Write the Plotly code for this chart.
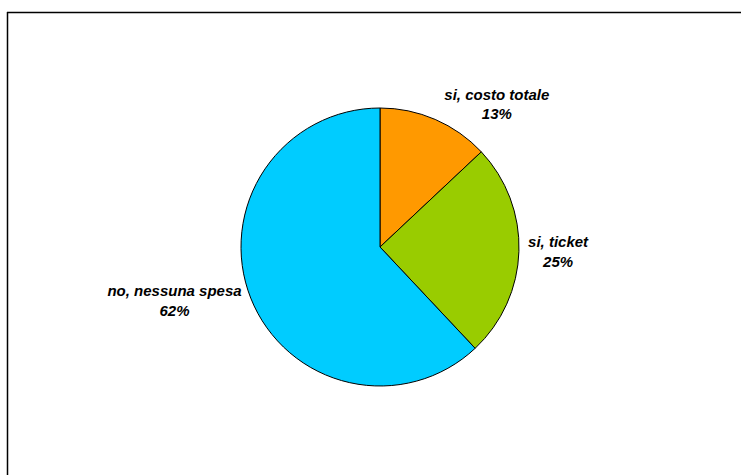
import plotly.graph_objects as go

categories = ["si, costo totale", "si, ticket", "no, nessuna spesa"]
values = [13, 25, 62]
colors = ["#FF9900", "#99CC00", "#00CCFF"]

W, H = 741, 475
cx, cy, r = 380, 247, 139

fig = go.Figure(go.Pie(
    labels=categories,
    values=values,
    sort=False,
    direction="clockwise",
    rotation=0,
    marker=dict(colors=colors, line=dict(color="black", width=1)),
    texttemplate="%{label}<br>%{percent:.0%}",
    textposition="outside",
    textfont=dict(family="Liberation Sans, Arial", size=15, color="black",
                  weight="bold", style="italic"),
    hoverinfo="label+percent",
    showlegend=False,
    domain=dict(x=[(cx - r) / W, (cx + r) / W], y=[1 - (cy + r) / H, 1 - (cy - r) / H]),
))

fig.update_layout(
    width=W, height=H,
    margin=dict(l=0, r=0, t=0, b=0),
    paper_bgcolor="white",
    plot_bgcolor="white",
    shapes=[
        dict(type="line", xref="paper", yref="paper", x0=7 / W, x1=1.01, y0=1 - 12.5 / H, y1=1 - 12.5 / H,
             line=dict(color="black", width=1.5)),
        dict(type="line", xref="paper", yref="paper", x0=7.5 / W, x1=7.5 / W, y0=1 - 12 / H, y1=-0.01,
             line=dict(color="black", width=1.5)),
    ],
)

fig.write_html("out.html", config={"displayModeBar": False},
               post_script="document.body.style.margin='0';document.body.style.overflow='hidden';")
